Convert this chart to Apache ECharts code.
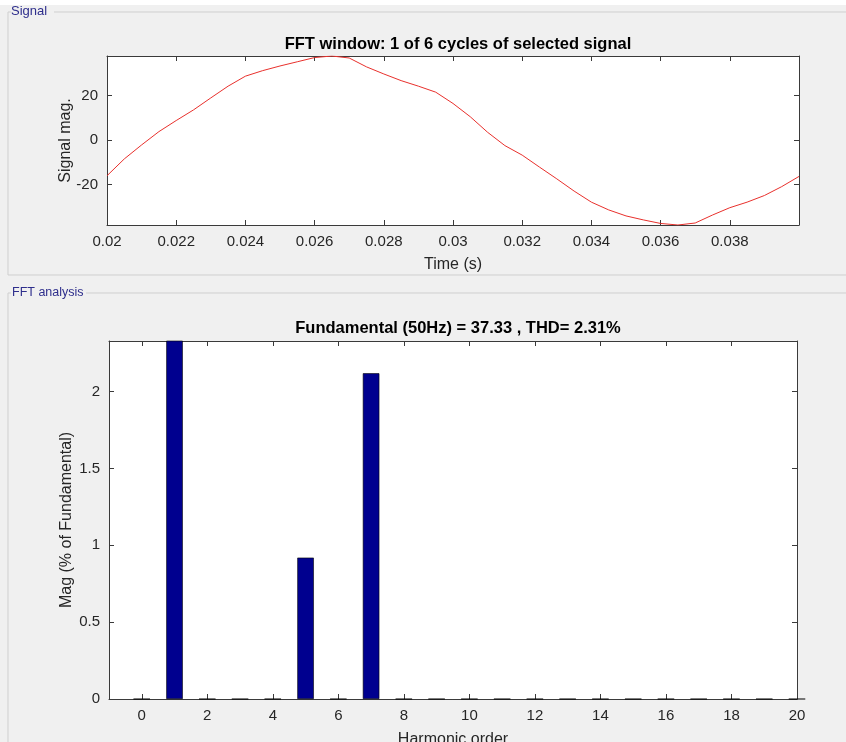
<!DOCTYPE html>
<html>
<head>
<meta charset="utf-8">
<title>FFT analysis</title>
<script src="https://cdn.jsdelivr.net/npm/echarts@6/dist/echarts.min.js"></script>
<style>
  html, body { margin: 0; padding: 0; background: #f0f0f0; }
  #chart { width: 846px; height: 742px; }
</style>
</head>
<body>
<div id="chart"></div>
<script>
// signal window (one cycle)
const timeS = [
  0.0200, 0.0205, 0.0210, 0.0215, 0.0220, 0.0225, 0.0230, 0.0235, 0.0240, 0.0245,
  0.0250, 0.0255, 0.0260, 0.0265, 0.0270, 0.0275, 0.0280, 0.0285, 0.0290, 0.0295,
  0.0300, 0.0305, 0.0310, 0.0315, 0.0320, 0.0325, 0.0330, 0.0335, 0.0340, 0.0345,
  0.0350, 0.0355, 0.0360, 0.0365, 0.0370, 0.0375, 0.0380, 0.0385, 0.0390, 0.0395,
  0.0400
]
const signalMag = [
  -16.1, -8.5, -2.2, 3.8, 8.8, 13.6, 19.0, 24.3, 28.8, 31.3,
  33.4, 35.3, 37.2, 37.9, 37.0, 33.0, 29.8, 26.8, 24.3, 21.6,
  16.5, 10.5, 3.5, -2.5, -6.8, -12.2, -17.5, -23.0, -28.0, -31.5,
  -34.2, -36.0, -37.6, -38.3, -37.4, -33.8, -30.5, -28.0, -25.0, -21.0,
  -16.4
]
const timeTicks = [0.02, 0.022, 0.024, 0.026, 0.028, 0.03, 0.032, 0.034, 0.036, 0.038]
const signalTicks = [-20, 0, 20]

// harmonic spectrum, % of fundamental
const harmonicOrder = [0, 1, 2, 3, 4, 5, 6, 7, 8, 9, 10, 11, 12, 13, 14, 15, 16, 17, 18, 19, 20]
const harmonicMag = [0, 100, 0, 0, 0, 0.92, 0, 2.12, 0, 0, 0,
  0, 0, 0, 0, 0, 0, 0, 0, 0, 0]
const orderTicks = [0, 2, 4, 6, 8, 10, 12, 14, 16, 18, 20]
const magTicks = [0, 0.5, 1, 1.5, 2]

const FONT = 'Liberation Sans, Arial, sans-serif'
const INK = '#262626'

const chart = echarts.init(document.getElementById('chart'))

const fmt = v => String(+(+v).toFixed(3))

// axis with inward ticks, optional labels
function axis(opts, labelled, ticks) {
  return Object.assign({
    type: 'value',
    nameMoveOverlap: false,
    axisLine: { show: true, onZero: false, lineStyle: { color: '#3a3a3a', width: 1 } },
    axisTick: { show: true, inside: true, length: 5, customValues: ticks, lineStyle: { color: '#3a3a3a' } },
    axisLabel: {
      show: labelled, customValues: ticks, formatter: fmt,
      color: INK, fontFamily: FONT, fontSize: 15, margin: 9
    },
    splitLine: { show: false },
    nameTextStyle: { color: INK, fontFamily: FONT, fontSize: 16 }
  }, opts)
}

const frame = '#cfcfcf'

chart.setOption({
  backgroundColor: '#f0f0f0',
  animation: false,
  title: [
    {
      text: 'FFT window: 1 of 6 cycles of selected signal',
      left: 453, top: 31, textAlign: 'center',
      textStyle: { fontFamily: FONT, fontSize: 16.5, fontWeight: 'bold', color: '#000' }
    },
    {
      text: 'Fundamental (50Hz) = 37.33 , THD= 2.31%',
      left: 453, top: 315, textAlign: 'center',
      textStyle: { fontFamily: FONT, fontSize: 16.5, fontWeight: 'bold', color: '#000' }
    }
  ],
  grid: [
    { left: 107, top: 56, width: 692, height: 169, show: true, backgroundColor: '#fff', borderWidth: 0, outerBoundsMode: 'none' },
    { left: 109, top: 341, width: 688, height: 358, show: true, backgroundColor: '#fff', borderWidth: 0, outerBoundsMode: 'none' }
  ],
  xAxis: [
    axis({ gridIndex: 0, position: 'bottom', min: 0.02, max: 0.04, name: 'Time (s)', nameLocation: 'middle', nameGap: 32 }, true, timeTicks),
    axis({ gridIndex: 0, position: 'top', min: 0.02, max: 0.04 }, false, timeTicks),
    axis({ gridIndex: 1, position: 'bottom', min: -1, max: 20, name: 'Harmonic order', nameLocation: 'middle', nameGap: 33 }, true, orderTicks),
    axis({ gridIndex: 1, position: 'top', min: -1, max: 20 }, false, orderTicks)
  ],
  yAxis: [
    axis({ gridIndex: 0, position: 'left', min: -38.3, max: 37.9, name: 'Signal mag.', nameLocation: 'middle', nameGap: 33 }, true, signalTicks),
    axis({ gridIndex: 0, position: 'right', min: -38.3, max: 37.9 }, false, signalTicks),
    axis({ gridIndex: 1, position: 'left', min: 0, max: 2.33, name: 'Mag (% of Fundamental)', nameLocation: 'middle', nameGap: 34 }, true, magTicks),
    axis({ gridIndex: 1, position: 'right', min: 0, max: 2.33 }, false, magTicks)
  ],
  series: [
    {
      type: 'line',
      xAxisIndex: 0, yAxisIndex: 0,
      data: timeS.map((t, i) => [t, signalMag[i]]),
      showSymbol: false,
      clip: true,
      lineStyle: { color: '#e8302c', width: 1 }
    },
    {
      type: 'bar',
      xAxisIndex: 2, yAxisIndex: 2,
      data: harmonicOrder.map((h, i) => [h, harmonicMag[i]]),
      barWidth: 16.5,
      clip: true,
      itemStyle: { color: '#00008f', borderColor: '#000', borderWidth: 0.6 }
    }
  ],
  graphic: [
    { type: 'rect', silent: true, shape: { x: 0, y: 0, width: 846, height: 5 }, style: { fill: '#fff' } },
    // "Signal" group box
    { type: 'polyline', silent: true, shape: { points: [[11, 12], [8, 12], [8, 275], [846, 275]] }, style: { stroke: frame, fill: null } },
    { type: 'line', silent: true, shape: { x1: 54, y1: 12, x2: 846, y2: 12 }, style: { stroke: frame } },
    { type: 'text', silent: true, left: 11, top: 5, style: { text: 'Signal', fill: '#2e2e8c', font: '13px ' + FONT } },
    // "FFT analysis" group box
    { type: 'polyline', silent: true, shape: { points: [[11, 293], [8, 293], [8, 742]] }, style: { stroke: frame, fill: null } },
    { type: 'line', silent: true, shape: { x1: 86, y1: 293, x2: 846, y2: 293 }, style: { stroke: frame } },
    { type: 'text', silent: true, left: 12, top: 286, style: { text: 'FFT analysis', fill: '#2e2e8c', font: '12.5px ' + FONT } }
  ]
})

window.addEventListener('resize', () => chart.resize())
</script>
</body>
</html>
